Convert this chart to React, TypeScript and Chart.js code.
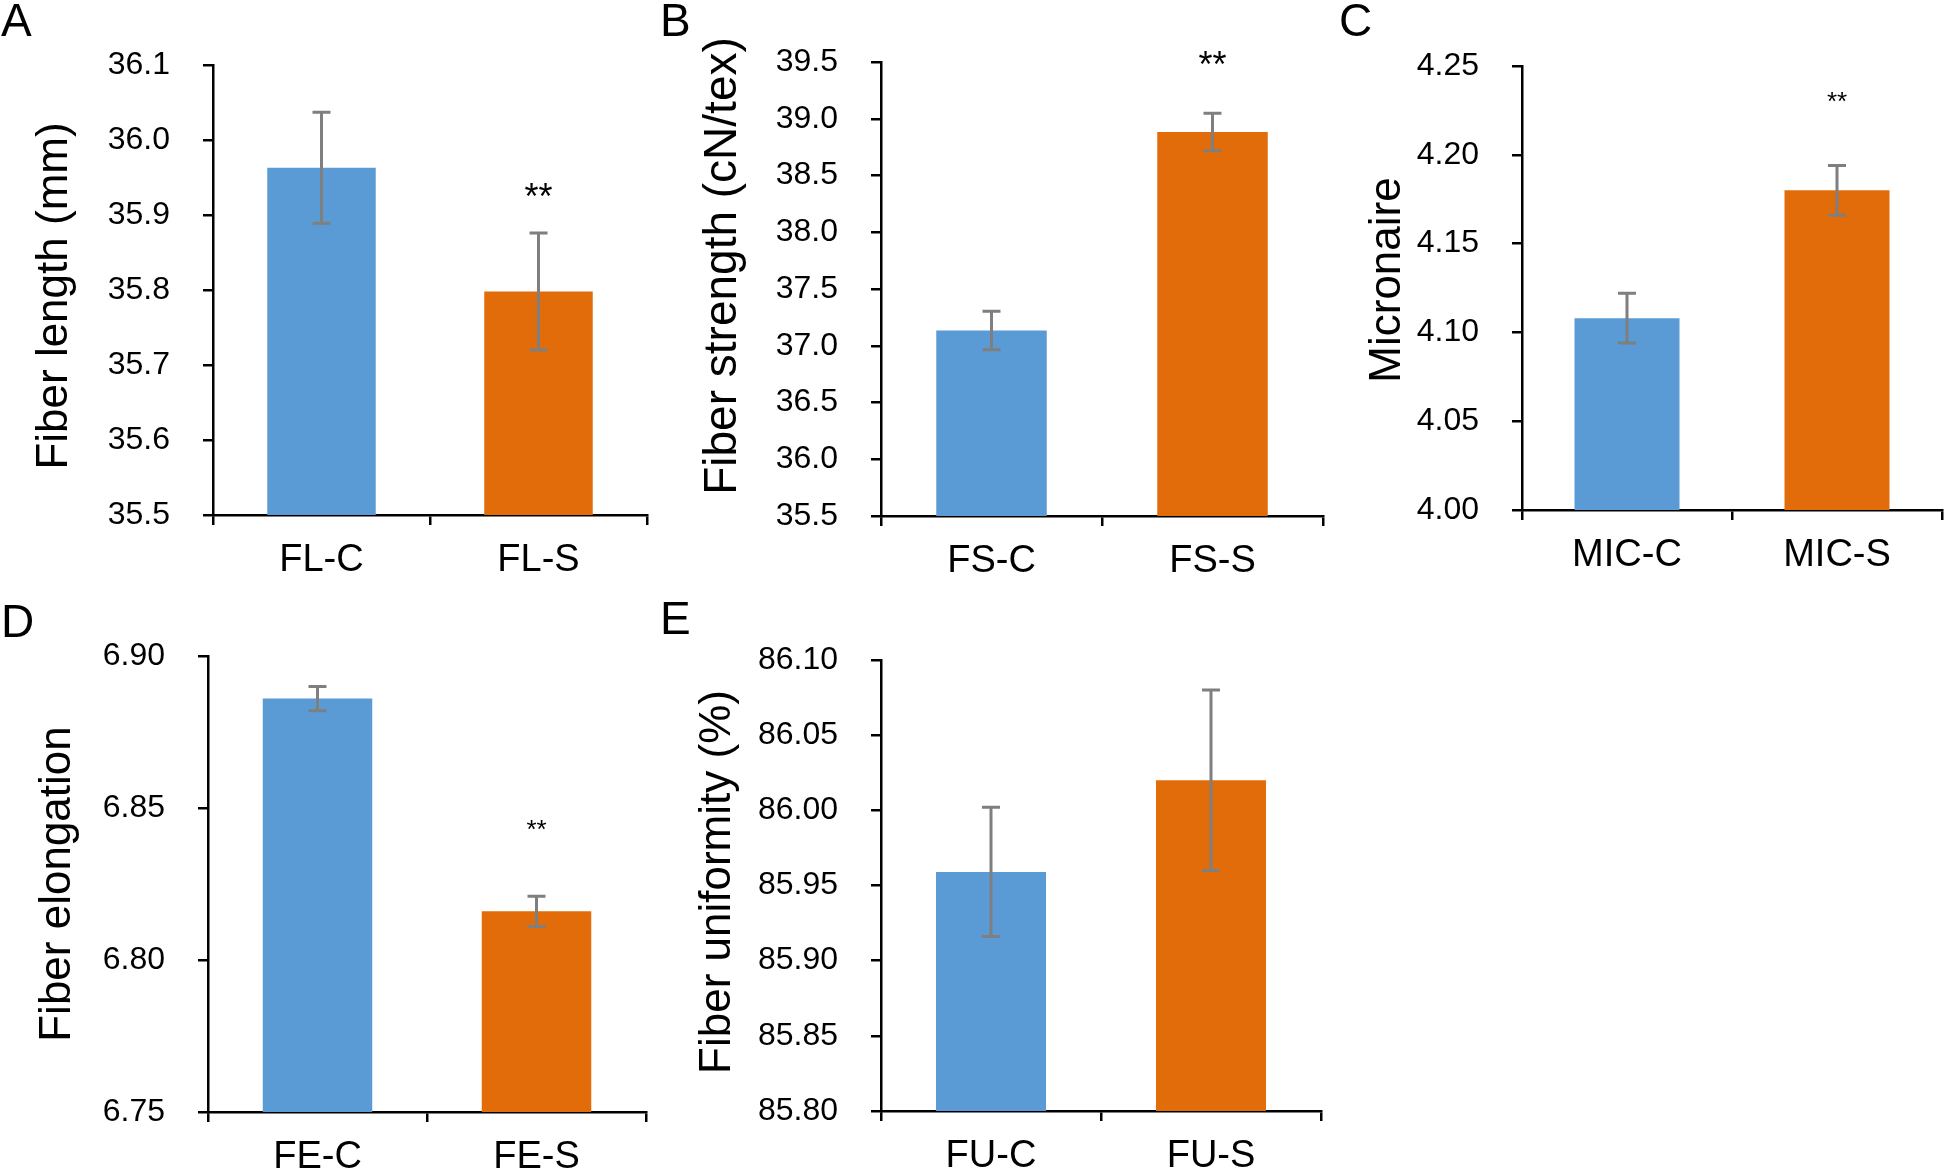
import React, { useEffect, useRef } from 'react';
import { Chart, registerables } from 'chart.js';

Chart.register(...registerables);

// ---------- Data ----------
const FL_CATEGORIES = ['FL-C', 'FL-S'];
const FL_MEANS = [35.963, 35.798];
const FL_ERRORS = [0.074, 0.078];
const FL_SIGNIF = ['', '**'];
const FL_TICKS = [35.5, 35.6, 35.7, 35.8, 35.9, 36.0, 36.1];

const FS_CATEGORIES = ['FS-C', 'FS-S'];
const FS_MEANS = [37.135, 38.883];
const FS_ERRORS = [0.17, 0.165];
const FS_SIGNIF = ['', '**'];
const FS_TICKS = [35.5, 36.0, 36.5, 37.0, 37.5, 38.0, 38.5, 39.0, 39.5];

const MIC_CATEGORIES = ['MIC-C', 'MIC-S'];
const MIC_MEANS = [4.108, 4.18];
const MIC_ERRORS = [0.014, 0.014];
const MIC_SIGNIF = ['', '**'];
const MIC_TICKS = [4.0, 4.05, 4.1, 4.15, 4.2, 4.25];

const FE_CATEGORIES = ['FE-C', 'FE-S'];
const FE_MEANS = [6.886, 6.816];
const FE_ERRORS = [0.004, 0.005];
const FE_SIGNIF = ['', '**'];
const FE_TICKS = [6.75, 6.8, 6.85, 6.9];

const FU_CATEGORIES = ['FU-C', 'FU-S'];
const FU_MEANS = [85.959, 86.02];
const FU_ERRORS = [0.043, 0.06];
const FU_SIGNIF = ['', ''];
const FU_TICKS = [85.8, 85.85, 85.9, 85.95, 86.0, 86.05, 86.1];

const BAR_COLORS = ['#5B9BD5', '#E36C0A'];
const ERR_COLOR = '#7F7F7F';
const FONT = '"Liberation Sans", Arial, Helvetica, sans-serif';

Chart.defaults.font.family = FONT;

type Box = { left: number; top: number; width: number; height: number };
type PanelCfg = {
  letter: string;
  title: string;
  categories: string[];
  means: number[];
  errors: number[];
  signif: string[];
  ticks: number[];
  decimals: number;
  box: Box;
  axisX: number;
  axisTop: number;
  axisBottom: number;
  axisRight: number;
  letterX: number;
  letterY: number;
  titleX: number;
  titleY: number;
  titleFont: number;
  sigFont: number;
  sigGap: number;
};

const PANELS: PanelCfg[] = [
  {
    letter: 'A', title: 'Fiber length (mm)',
    categories: FL_CATEGORIES, means: FL_MEANS, errors: FL_ERRORS, signif: FL_SIGNIF, ticks: FL_TICKS, decimals: 1,
    box: { left: 0, top: 0, width: 660, height: 600 },
    axisX: 213, axisTop: 65, axisBottom: 515, axisRight: 647,
    letterX: 1, letterY: 36, titleX: 55, titleY: 296, titleFont: 44, sigFont: 36, sigGap: 42,
  },
  {
    letter: 'B', title: 'Fiber strength (cN/tex)',
    categories: FS_CATEGORIES, means: FS_MEANS, errors: FS_ERRORS, signif: FS_SIGNIF, ticks: FS_TICKS, decimals: 1,
    box: { left: 660, top: 0, width: 670, height: 600 },
    axisX: 881, axisTop: 62, axisBottom: 516, axisRight: 1323,
    letterX: 660, letterY: 36, titleX: 723, titleY: 266, titleFont: 46, sigFont: 36, sigGap: 54,
  },
  {
    letter: 'C', title: 'Micronaire',
    categories: MIC_CATEGORIES, means: MIC_MEANS, errors: MIC_ERRORS, signif: MIC_SIGNIF, ticks: MIC_TICKS, decimals: 2,
    box: { left: 1330, top: 0, width: 616, height: 600 },
    axisX: 1522, axisTop: 66, axisBottom: 510, axisRight: 1942,
    letterX: 1339, letterY: 36, titleX: 1388, titleY: 280, titleFont: 44, sigFont: 26, sigGap: 68,
  },
  {
    letter: 'D', title: 'Fiber elongation',
    categories: FE_CATEGORIES, means: FE_MEANS, errors: FE_ERRORS, signif: FE_SIGNIF, ticks: FE_TICKS, decimals: 2,
    box: { left: 0, top: 590, width: 660, height: 585 },
    axisX: 208, axisTop: 656, axisBottom: 1112, axisRight: 646,
    letterX: 1, letterY: 637, titleX: 58, titleY: 884, titleFont: 44, sigFont: 26, sigGap: 71,
  },
  {
    letter: 'E', title: 'Fiber uniformity (%)',
    categories: FU_CATEGORIES, means: FU_MEANS, errors: FU_ERRORS, signif: FU_SIGNIF, ticks: FU_TICKS, decimals: 2,
    box: { left: 660, top: 590, width: 670, height: 585 },
    axisX: 881, axisTop: 660, axisBottom: 1111, axisRight: 1321,
    letterX: 660, letterY: 634, titleX: 718, titleY: 882, titleFont: 44, sigFont: 26, sigGap: 60,
  },
];

function Panel({ cfg }: { cfg: PanelCfg }) {
  const ref = useRef<HTMLCanvasElement | null>(null);

  useEffect(() => {
    const canvas = ref.current;
    if (!canvas) return;
    const { box } = cfg;

    const extras = {
      id: 'panelExtras',
      afterDatasetsDraw(chart: any) {
        const ctx = chart.ctx as CanvasRenderingContext2D;
        const yS = chart.scales.y;
        const meta = chart.getDatasetMeta(0);
        ctx.save();
        ctx.strokeStyle = ERR_COLOR;
        ctx.lineWidth = 3;
        meta.data.forEach((el: any, i: number) => {
          const x = el.x;
          const top = yS.getPixelForValue(cfg.means[i] + cfg.errors[i]);
          const bot = yS.getPixelForValue(cfg.means[i] - cfg.errors[i]);
          ctx.beginPath();
          ctx.moveTo(x, top);
          ctx.lineTo(x, bot);
          ctx.moveTo(x - 9, top);
          ctx.lineTo(x + 9, top);
          ctx.moveTo(x - 9, bot);
          ctx.lineTo(x + 9, bot);
          ctx.stroke();
          if (cfg.signif[i]) {
            ctx.fillStyle = '#000';
            ctx.font = `${cfg.sigFont}px ${FONT}`;
            ctx.textAlign = 'center';
            ctx.textBaseline = 'middle';
            ctx.fillText(cfg.signif[i], x, top - cfg.sigGap + 0.225 * cfg.sigFont);
          }
        });
        ctx.restore();
      },
      afterDraw(chart: any) {
        const ctx = chart.ctx as CanvasRenderingContext2D;
        ctx.save();
        ctx.fillStyle = '#000';
        ctx.font = `46px ${FONT}`;
        ctx.textAlign = 'left';
        ctx.textBaseline = 'alphabetic';
        ctx.fillText(cfg.letter, cfg.letterX - box.left, cfg.letterY - box.top);
        ctx.translate(cfg.titleX - box.left, cfg.titleY - box.top);
        ctx.rotate(-Math.PI / 2);
        ctx.font = `${cfg.titleFont}px ${FONT}`;
        ctx.textAlign = 'center';
        ctx.textBaseline = 'middle';
        ctx.fillText(cfg.title, 0, 0);
        ctx.restore();
      },
    };

    const chart = new Chart(canvas, {
      type: 'bar',
      data: {
        labels: cfg.categories,
        datasets: [
          {
            data: cfg.means,
            backgroundColor: BAR_COLORS,
            borderWidth: 0,
            barPercentage: 1,
            categoryPercentage: 0.5,
          },
        ],
      },
      options: {
        responsive: false,
        animation: false,
        devicePixelRatio: 1,
        layout: {
          padding: {
            top: cfg.axisTop - box.top,
            right: box.left + box.width - cfg.axisRight,
            left: 0,
            bottom: 0,
          },
        },
        plugins: {
          legend: { display: false },
          tooltip: { enabled: false },
          title: { display: false },
        },
        scales: {
          x: {
            offset: true,
            afterFit: (s: any) => {
              s.height = box.top + box.height - cfg.axisBottom;
            },
            ticks: {
              font: { family: FONT, size: 38 },
              color: '#000',
              padding: 13,
            },
            grid: {
              offset: true,
              drawOnChartArea: false,
              drawTicks: true,
              tickLength: 10,
              color: '#000',
              lineWidth: 2.5,
            },
            border: { display: true, color: '#000', width: 2.5 },
          },
          y: {
            min: cfg.ticks[0],
            max: cfg.ticks[cfg.ticks.length - 1],
            afterBuildTicks: (s: any) => {
              s.ticks = cfg.ticks.map((v) => ({ value: v }));
            },
            afterFit: (s: any) => {
              s.width = cfg.axisX - box.left;
            },
            ticks: {
              autoSkip: false,
              font: { family: FONT, size: 32 },
              color: '#000',
              padding: 33,
              callback: (v: any) => Number(v).toFixed(cfg.decimals),
            },
            grid: {
              drawOnChartArea: false,
              drawTicks: true,
              tickLength: 10,
              color: '#000',
              lineWidth: 2.5,
            },
            border: { display: true, color: '#000', width: 2.5 },
          },
        },
      },
      plugins: [extras],
    } as any);

    return () => {
      chart.destroy();
    };
  }, [cfg]);

  return (
    <canvas
      ref={ref}
      width={cfg.box.width}
      height={cfg.box.height}
      style={{
        position: 'absolute',
        left: cfg.box.left,
        top: cfg.box.top,
        width: cfg.box.width,
        height: cfg.box.height,
      }}
    />
  );
}

export default function App() {
  return (
    <div
      style={{
        position: 'absolute',
        left: 0,
        top: 0,
        width: 1946,
        height: 1175,
        background: '#ffffff',
        overflow: 'hidden',
      }}
    >
      {PANELS.map((p) => (
        <Panel key={p.letter} cfg={p} />
      ))}
    </div>
  );
}
